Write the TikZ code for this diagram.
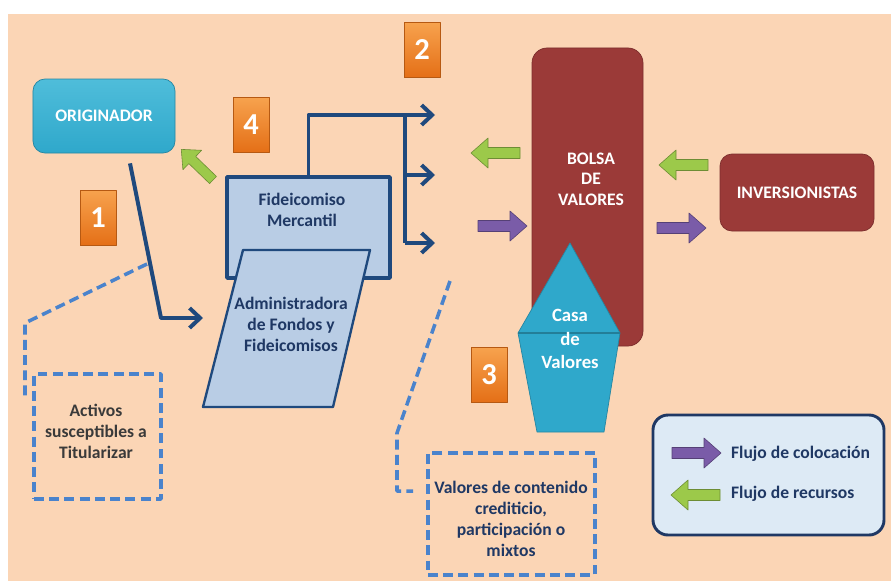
\documentclass[tikz,border=0pt]{standalone}
\usepackage{fontspec}
\setmainfont{Carlito}
\usetikzlibrary{calc,arrows.meta}

\definecolor{fondo}{HTML}{FBD5B5}
\definecolor{celeste}{HTML}{2FA8CB}
\definecolor{celestecla}{HTML}{4FBDDA}
\definecolor{rojo}{HTML}{9B3A38}
\definecolor{naranja}{HTML}{E46F16}
\definecolor{naranjacla}{HTML}{F7A24E}
\definecolor{azulclaro}{HTML}{B9CDE5}
\definecolor{azulosc}{HTML}{1F497D}
\definecolor{marino}{HTML}{1F3864}
\definecolor{azulpunt}{HTML}{4A83CC}
\definecolor{morado}{HTML}{7A5CA8}
\definecolor{verde}{HTML}{9CC94A}
\definecolor{leyenda}{HTML}{DDEAF5}
\definecolor{gris}{HTML}{3A3A3A}

\tikzset{
  caja/.style={rounded corners=0.36cm, inner sep=0pt, align=center, text=white},
  numero/.style={draw=naranja!80!black, line width=0.6pt, top color=naranjacla, bottom color=naranja,
    text=white, font=\fontsize{26}{26}\selectfont\bfseries, minimum width=1.08cm, minimum height=1.65cm, inner sep=0pt},
  linea/.style={draw=azulosc, line width=3.4pt},
  flecha/.style={linea, -{Straight Barb[length=9pt, width=17pt]}},
  punteado/.style={draw=azulpunt, line width=3pt, dash pattern=on 8.5pt off 4.5pt, line cap=butt},
  pics/flujo/.style={code={
    \filldraw[fill=#1, draw=#1!70!black, line width=0.5pt]
      (0,-5.5) -- (32,-5.5) -- (32,-15) -- (49,0) -- (32,15) -- (32,5.5) -- (0,5.5) -- cycle;
  }}
}

\begin{document}
\begin{tikzpicture}[x=0.03cm, y=-0.03cm, line join=round, font=\fontsize{15}{18}\selectfont\bfseries]

	\useasboundingbox (0,0) rectangle (891,581);
	% Fondo
	\fill[fondo] (8,14) rectangle (891,581);

	% Lineas punteadas hacia los recuadros
	\draw[punteado] (147,264) -- (25,323) -- (25,398);
	\draw[punteado] (450,281) -- (397,433) -- (397,491) -- (413,491);

	% Numeros de los pasos
	\foreach \n/\x/\y in {1/98/218, 2/422/50, 3/489/375, 4/251/125} {
		\node[numero] (n\n) at (\x,\y) {\n};
	}

	% Originador
	\node[caja, top color=celestecla, bottom color=celeste, draw=celeste!80!black, line width=0.6pt,
		minimum width=4.26cm, minimum height=2.22cm] (orig) at (104,116) {ORIGINADOR};

	% Fideicomiso mercantil
	\node[draw=azulosc, line width=3.2pt, fill=azulclaro, minimum width=4.89cm, minimum height=3.03cm] (fide) at (308.5,227.5) {};
	\node[text=marino, align=center] (fidetxt) at (302,210) {Fideicomiso\\Mercantil};

	% Administradora (paralelogramo)
	\filldraw[fill=azulclaro, draw=azulosc, line width=2pt] (243,250) -- (370,250) -- (333,407) -- (203,407) -- cycle;
	\node[text=marino, align=center] (admin) at (291,324) {Administradora\\de Fondos y\\Fideicomisos};

	% Flecha del originador a la administradora
	\coordinate (c1) at ($(orig.south)+(26,10)$);
	\coordinate (c2) at (161,318);
	\coordinate (c3) at (203,318);
	\draw[flecha] (c1) -- (c2) -- (c3);

	% Flechas del fideicomiso hacia la bolsa
	\coordinate (rama) at (405,115);
	\coordinate (s1) at (435,115);
	\draw[flecha] (fide.north) |- (s1);
	\draw[linea] (rama) -- (405,243);
	\foreach \y in {175,243} {
		\draw[flecha] (405,\y) -- (435,\y);
	}

	% Bolsa de valores
	\node[caja, fill=rojo, draw=rojo!80!black, line width=0.6pt, rounded corners=0.45cm,
		minimum width=3.33cm, minimum height=8.94cm] (bolsa) at (587.5,197) {};
	\node[text=white, align=center, font=\fontsize{15}{17.5}\selectfont\bfseries] (bolsatxt) at (591,179) {BOLSA\\DE\\VALORES};

	% Casa de valores
	\filldraw[fill=celeste, draw=celeste!80!black, line width=0.6pt]
		(570,243) -- (620,333) -- (604,432) -- (537,432) -- (518,333) -- cycle;
	\draw[celeste!75!black, line width=1pt] (518,333) -- (620,333);
	\node[text=white, align=center, font=\fontsize{16}{20}\selectfont\bfseries] (casa) at (570,339) {Casa\\de\\Valores};

	% Inversionistas
	\node[caja, fill=rojo, draw=rojo!80!black, line width=0.6pt,
		minimum width=4.62cm, minimum height=2.31cm] (inv) at (797,192.5) {INVERSIONISTAS};

	% Flechas de flujo
	\pic[rotate=136, scale=0.9] at (213,180) {flujo=verde};
	\pic[rotate=180] at (520,153) {flujo=verde};
	\pic at (478,226) {flujo=morado};
	\pic[rotate=180] at (708,165) {flujo=verde};
	\pic at (657,228) {flujo=morado};

	% Recuadros punteados
	\node[punteado, minimum width=3.81cm, minimum height=3.75cm] (activos) at (97.5,436.5) {};
	\node[text=gris, align=center] (activostxt) at (96,431) {Activos\\susceptibles a\\Titularizar};
	\node[punteado, minimum width=5.01cm, minimum height=3.66cm] (valores) at (511.5,514) {};
	\node[text=marino, align=center] (valorestxt) at (511,519) {Valores de contenido\\crediticio,\\participación o\\mixtos};

	% Leyenda
	\node[draw=marino, line width=2.5pt, fill=leyenda, rounded corners=0.45cm,
		minimum width=6.93cm, minimum height=3.6cm] (ley) at (768.5,475) {};
	\pic at (672,453) {flujo=morado};
	\pic[rotate=180] at (720,495) {flujo=verde};
	\node[text=marino, anchor=west] (colocacion) at (727,454) {Flujo de colocación};
	\node[text=marino, anchor=west] (recursos) at (727,494) {Flujo de recursos};

\end{tikzpicture}
\end{document}
